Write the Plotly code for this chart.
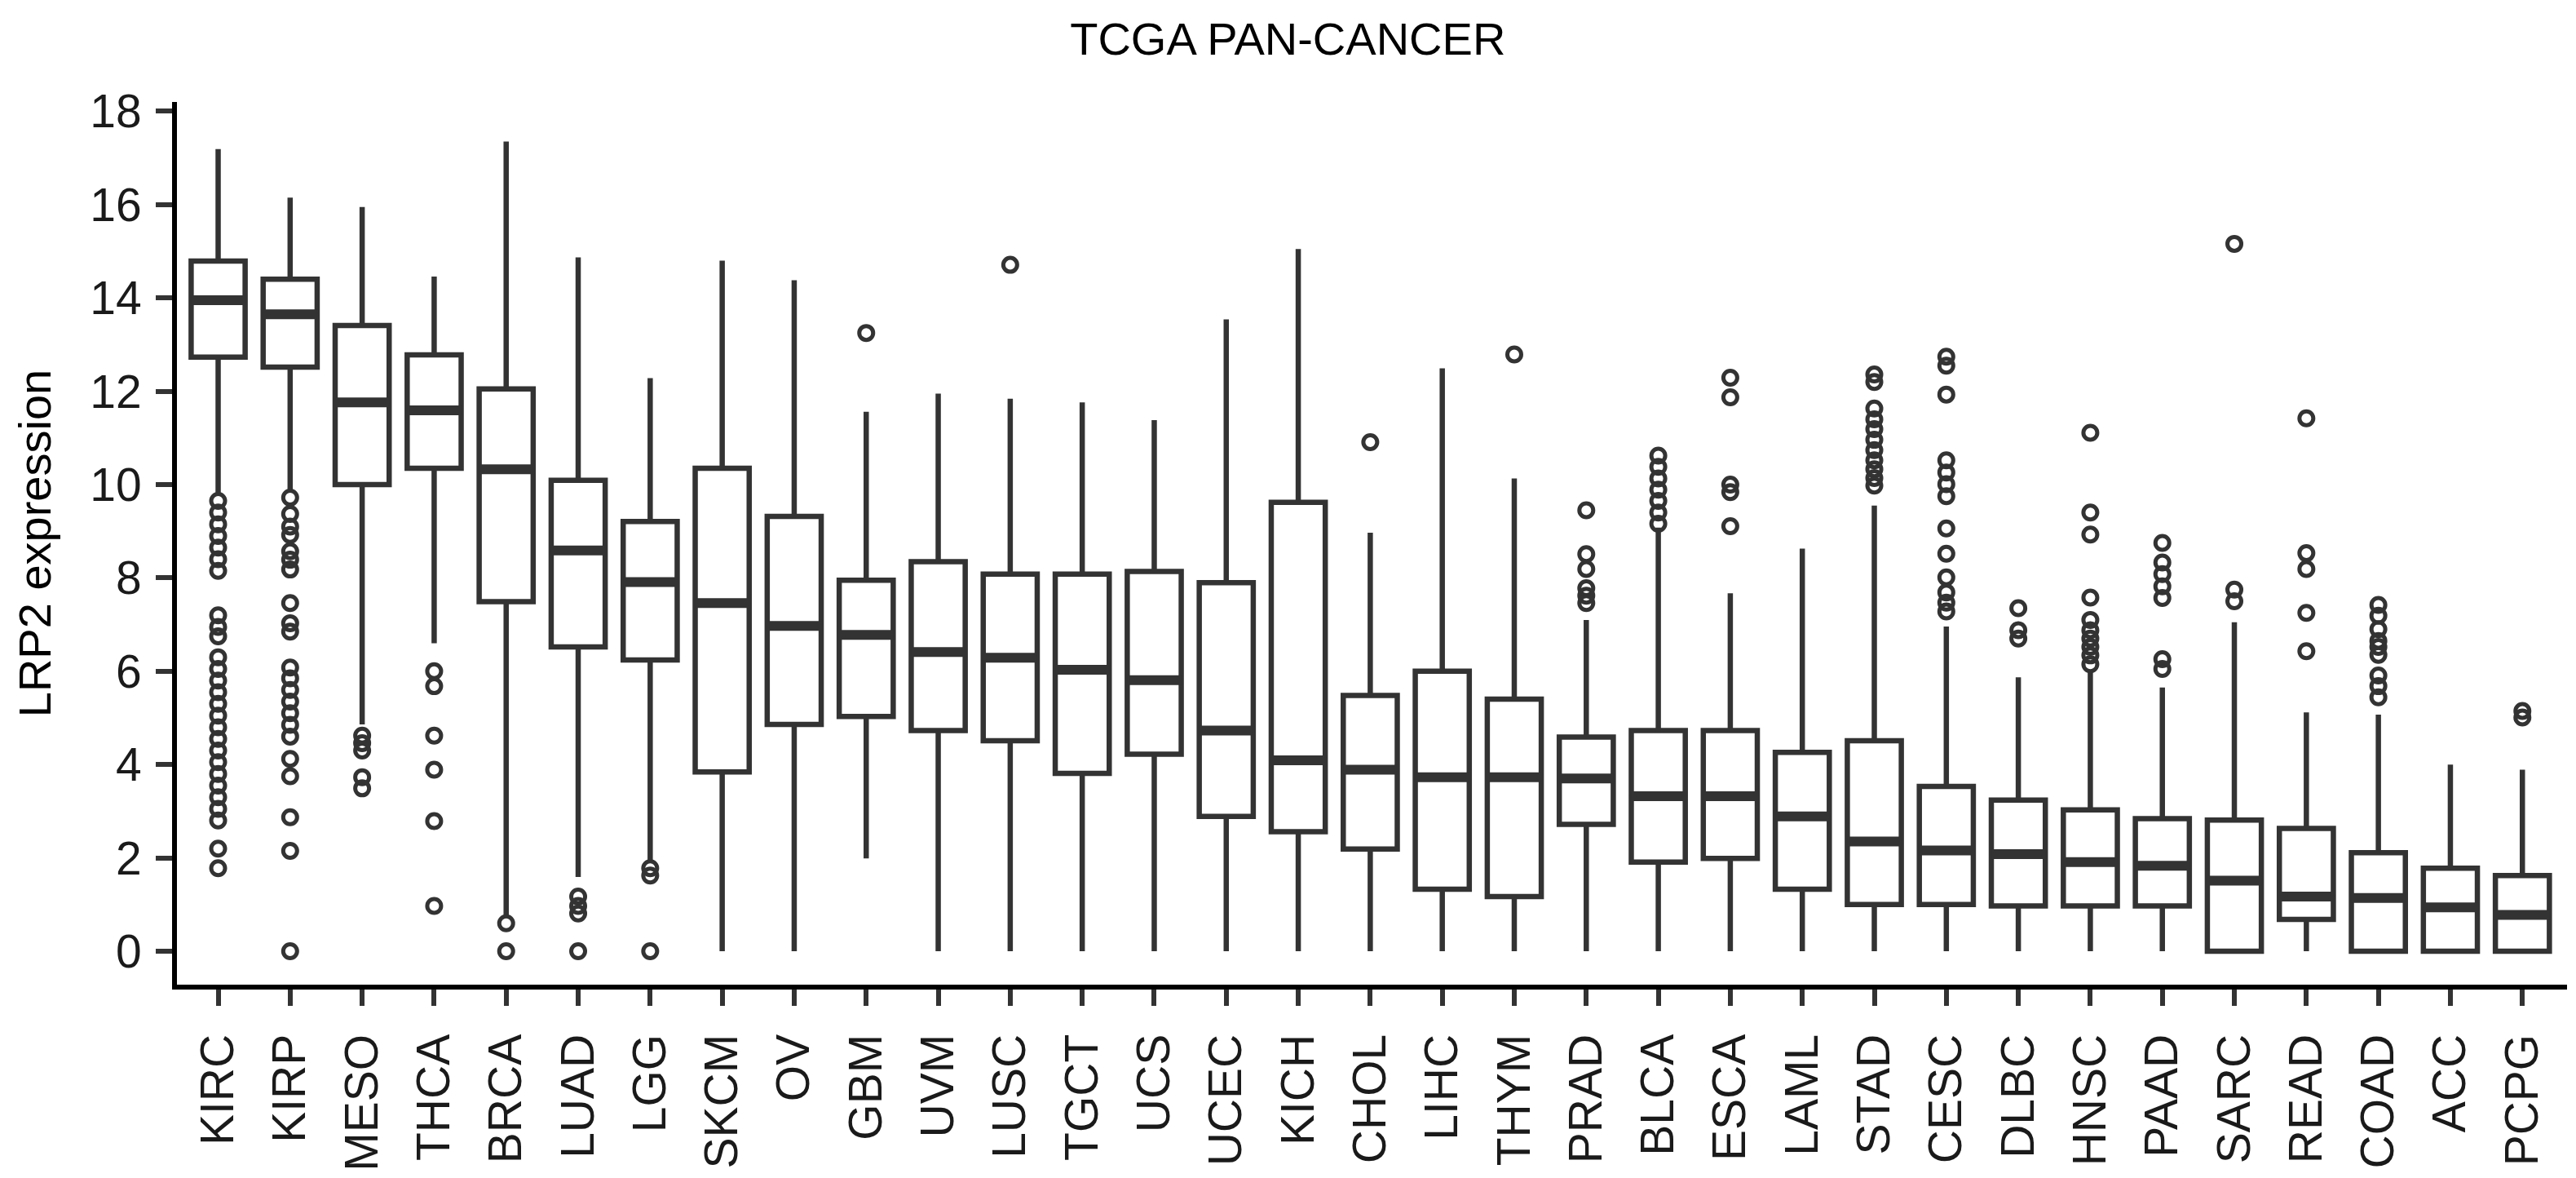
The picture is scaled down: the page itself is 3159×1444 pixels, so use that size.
import plotly.graph_objects as go

categories = ["KIRC", "KIRP", "MESO", "THCA", "BRCA", "LUAD", "LGG", "SKCM", "OV", "GBM",
              "UVM", "LUSC", "TGCT", "UCS", "UCEC", "KICH", "CHOL", "LIHC", "THYM", "PRAD",
              "BLCA", "ESCA", "LAML", "STAD", "CESC", "DLBC", "HNSC", "PAAD", "SARC", "READ",
              "COAD", "ACC", "PCPG"]

upper_whisker = [17.19, 16.15, 15.95, 14.46, 17.35, 14.87, 12.28, 14.80, 14.38, 11.56,
                 11.95, 11.84, 11.76, 11.38, 13.54, 15.05, 8.97, 12.49, 10.13, 7.10,
                 9.08, 7.67, 8.63, 9.55, 6.96, 5.87, 5.98, 5.65, 7.05, 5.12,
                 5.07, 4.00, 3.89]
q3 = [14.79, 14.40, 13.41, 12.78, 12.05, 10.09, 9.21, 10.35, 9.32, 7.95,
      8.35, 8.08, 8.08, 8.14, 7.90, 9.62, 5.48, 6.00, 5.40, 4.59,
      4.73, 4.73, 4.26, 4.51, 3.53, 3.24, 3.03, 2.84, 2.81, 2.63,
      2.11, 1.78, 1.62]
medians = [13.95, 13.65, 11.76, 11.59, 10.33, 8.59, 7.91, 7.46, 6.97, 6.78,
           6.41, 6.29, 6.03, 5.81, 4.73, 4.09, 3.89, 3.73, 3.73, 3.70,
           3.32, 3.32, 2.89, 2.35, 2.16, 2.08, 1.91, 1.83, 1.51, 1.17,
           1.14, 0.94, 0.78]
q1 = [12.73, 12.52, 10.00, 10.35, 7.49, 6.52, 6.24, 3.84, 4.86, 5.03,
      4.73, 4.51, 3.81, 4.22, 2.89, 2.56, 2.19, 1.33, 1.17, 2.72,
      1.91, 1.99, 1.33, 1.00, 1.00, 0.97, 0.97, 0.97, 0.00, 0.68,
      0.00, 0.00, 0.00]
lower_whisker = [9.80, 9.85, 4.86, 6.60, 0.75, 1.59, 1.95, 0.0, 0.0, 1.99,
                 0.0, 0.0, 0.0, 0.0, 0.0, 0.0, 0.0, 0.0, 0.0, 0.0,
                 0.0, 0.0, 0.0, 0.0, 0.0, 0.0, 0.0, 0.0, 0.0, 0.0,
                 0.0, 0.0, 0.0]

outliers = [
    [9.65, 9.40, 9.15, 8.90, 8.65, 8.40, 8.15, 7.20, 6.95, 6.75, 6.30, 6.05, 5.80, 5.55,
     5.30, 5.05, 4.80, 4.55, 4.30, 4.05, 3.80, 3.55, 3.30, 3.05, 2.80, 2.20, 1.78],  # KIRC
    [9.72, 9.37, 9.10, 8.92, 8.57, 8.39, 8.18, 7.46, 7.03, 6.85, 6.08, 5.85, 5.60, 5.35,
     5.10, 4.85, 4.60, 4.12, 3.75, 2.87, 2.15, 0.0],  # KIRP
    [4.62, 4.46, 4.30, 3.73, 3.49],  # MESO
    [6.00, 5.68, 4.62, 3.89, 2.79, 0.97],  # THCA
    [0.60, 0.0],  # BRCA
    [1.17, 0.97, 0.81, 0.0],  # LUAD
    [1.78, 1.62, 0.0],  # LGG
    [],  # SKCM
    [],  # OV
    [13.25],  # GBM
    [],  # UVM
    [14.71],  # LUSC
    [],  # TGCT
    [],  # UCS
    [],  # UCEC
    [],  # KICH
    [10.91],  # CHOL
    [],  # LIHC
    [12.79],  # THYM
    [9.45, 8.51, 8.19, 7.78, 7.62, 7.46],  # PRAD
    [10.62, 10.38, 10.13, 9.89, 9.65, 9.40, 9.16],  # BLCA
    [12.29, 11.87, 10.00, 9.84, 9.11],  # ESCA
    [],  # LAML
    [12.36, 12.20, 11.63, 11.40, 11.19, 10.96, 10.74, 10.52, 10.33, 10.14, 9.98],  # STAD
    [12.74, 12.55, 11.93, 10.52, 10.26, 10.01, 9.75, 9.06, 8.52, 8.01, 7.69, 7.47, 7.28],  # CESC
    [7.35, 6.88, 6.70],  # DLBC
    [11.11, 9.40, 8.93, 7.58, 7.10, 6.88, 6.70, 6.52, 6.34, 6.15],  # HNSC
    [8.75, 8.33, 8.08, 7.82, 7.57, 6.26, 6.05],  # PAAD
    [15.16, 7.75, 7.50],  # SARC
    [11.42, 8.53, 8.19, 7.25, 6.43],  # READ
    [7.42, 7.19, 6.90, 6.65, 6.52, 6.35, 5.91, 5.68, 5.44],  # COAD
    [],  # ACC
    [5.15, 5.01],  # PCPG
]

y_ticks = [0, 2, 4, 6, 8, 10, 12, 14, 16, 18]

FONT = "Liberation Sans"
INK = "#333333"
BOX_W = 0.75

pos = list(range(len(categories)))

fig = go.Figure()

fig.add_trace(go.Box(
    x=pos, q1=q1, median=medians, q3=q3,
    lowerfence=lower_whisker, upperfence=upper_whisker,
    width=BOX_W, whiskerwidth=0, boxpoints=False,
    fillcolor="white", line=dict(color=INK, width=6.5),
    showlegend=False, hoverinfo="skip",
))

# thicker median bars
mx, my = [], []
for i, m in enumerate(medians):
    mx += [i - BOX_W / 2, i + BOX_W / 2, None]
    my += [m, m, None]
fig.add_trace(go.Scatter(
    x=mx, y=my, mode="lines", line=dict(color=INK, width=12),
    showlegend=False, hoverinfo="skip",
))

# outliers
ox, oy = [], []
for i, vals in enumerate(outliers):
    ox += [i] * len(vals)
    oy += vals
fig.add_trace(go.Scatter(
    x=ox, y=oy, mode="markers",
    marker=dict(symbol="circle-open", size=17, color=INK, line=dict(width=5)),
    showlegend=False, hoverinfo="skip",
))

fig.update_layout(
    width=3159, height=1444,
    margin=dict(l=209, r=19, t=117, b=245),
    paper_bgcolor="white", plot_bgcolor="white",
    font=dict(family=FONT, size=57, color="#1a1a1a"),
    title=dict(text="TCGA PAN-CANCER", x=0.4974, xanchor="center",
               y=1 - 39 / 1444, yanchor="middle", yref="container",
               font=dict(family=FONT, size=56, color="black")),
    showlegend=False,
)

fig.update_xaxes(
    range=[-0.572, 32.62], tickmode="array", tickvals=pos, ticktext=categories,
    tickangle=-90, showline=True, linecolor="black", linewidth=6,
    ticks="outside", ticklen=20, tickwidth=6, tickcolor=INK,
    showgrid=False, zeroline=False, ticklabelstandoff=12,
)
fig.update_yaxes(
    range=[-0.717, 18.2], tickmode="array", tickvals=y_ticks,
    showline=True, linecolor="black", linewidth=6,
    ticks="outside", ticklen=20, tickwidth=6, tickcolor=INK,
    showgrid=False, zeroline=False, ticklabelstandoff=6,
    title=dict(text="LRP2 expression", standoff=32, font=dict(family=FONT, size=56, color="black")),
)

fig.write_html("out.html")
